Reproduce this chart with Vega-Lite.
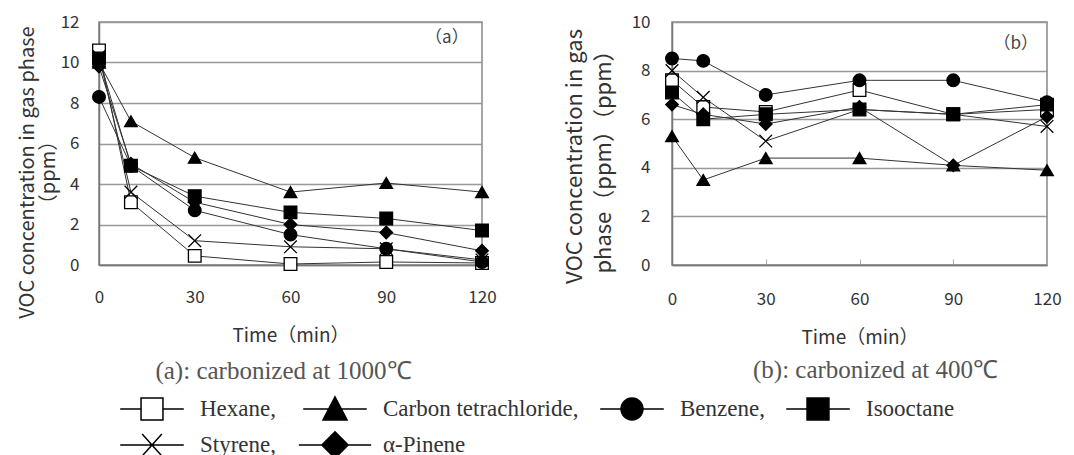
{
  "$schema": "https://vega.github.io/schema/vega-lite/v6.json",
  "background": "white",
  "padding": {"left": 16, "top": 12, "right": 0, "bottom": 0},
  "config": {
    "view": {"stroke": "#888", "strokeWidth": 1.5},
    "font": "Noto Sans CJK JP",
    "axis": {
      "labelFont": "Noto Sans CJK JP", "labelFontSize": 17, "labelColor": "#333",
      "titleFont": "Noto Sans CJK JP", "titleFontSize": 19, "titleFontWeight": "normal", "titleColor": "#333",
      "gridColor": "#999", "gridWidth": 1.5, "domainColor": "#777", "domainWidth": 1.5, "ticks": false
    },
    "axisX": {"labelFlush": false},
    "legend": {
      "labelFont": "Liberation Serif", "labelFontSize": 23, "labelColor": "#333", "labelLimit": 0,
      "symbolOpacity": 1
    },
    "title": {"font": "Liberation Serif", "fontSize": 25, "fontWeight": "normal", "color": "#555"}
  },
  "datasets": {
    "vals": [
      {"panel": "a", "compound": "Hexane", "time": 0, "conc": 10.6},
      {"panel": "a", "compound": "Hexane", "time": 10, "conc": 3.1},
      {"panel": "a", "compound": "Hexane", "time": 30, "conc": 0.45},
      {"panel": "a", "compound": "Hexane", "time": 60, "conc": 0.05},
      {"panel": "a", "compound": "Hexane", "time": 90, "conc": 0.15},
      {"panel": "a", "compound": "Hexane", "time": 120, "conc": 0.1},
      {"panel": "a", "compound": "Carbon tetrachloride", "time": 0, "conc": 10.0},
      {"panel": "a", "compound": "Carbon tetrachloride", "time": 10, "conc": 7.1},
      {"panel": "a", "compound": "Carbon tetrachloride", "time": 30, "conc": 5.3},
      {"panel": "a", "compound": "Carbon tetrachloride", "time": 60, "conc": 3.6},
      {"panel": "a", "compound": "Carbon tetrachloride", "time": 90, "conc": 4.05},
      {"panel": "a", "compound": "Carbon tetrachloride", "time": 120, "conc": 3.6},
      {"panel": "a", "compound": "Benzene", "time": 0, "conc": 8.3},
      {"panel": "a", "compound": "Benzene", "time": 10, "conc": 4.9},
      {"panel": "a", "compound": "Benzene", "time": 30, "conc": 2.7},
      {"panel": "a", "compound": "Benzene", "time": 60, "conc": 1.5},
      {"panel": "a", "compound": "Benzene", "time": 90, "conc": 0.8},
      {"panel": "a", "compound": "Benzene", "time": 120, "conc": 0.15},
      {"panel": "a", "compound": "Isooctane", "time": 0, "conc": 10.2},
      {"panel": "a", "compound": "Isooctane", "time": 10, "conc": 4.9},
      {"panel": "a", "compound": "Isooctane", "time": 30, "conc": 3.4},
      {"panel": "a", "compound": "Isooctane", "time": 60, "conc": 2.6},
      {"panel": "a", "compound": "Isooctane", "time": 90, "conc": 2.3},
      {"panel": "a", "compound": "Isooctane", "time": 120, "conc": 1.7},
      {"panel": "a", "compound": "Styrene", "time": 0, "conc": 10.3},
      {"panel": "a", "compound": "Styrene", "time": 10, "conc": 3.6},
      {"panel": "a", "compound": "Styrene", "time": 30, "conc": 1.2},
      {"panel": "a", "compound": "Styrene", "time": 60, "conc": 0.9},
      {"panel": "a", "compound": "Styrene", "time": 90, "conc": 0.8},
      {"panel": "a", "compound": "Styrene", "time": 120, "conc": 0.25},
      {"panel": "a", "compound": "α-Pinene", "time": 0, "conc": 9.8},
      {"panel": "a", "compound": "α-Pinene", "time": 10, "conc": 5.0},
      {"panel": "a", "compound": "α-Pinene", "time": 30, "conc": 3.1},
      {"panel": "a", "compound": "α-Pinene", "time": 60, "conc": 2.0},
      {"panel": "a", "compound": "α-Pinene", "time": 90, "conc": 1.6},
      {"panel": "a", "compound": "α-Pinene", "time": 120, "conc": 0.7},
      {"panel": "b", "compound": "Hexane", "time": 0, "conc": 7.6},
      {"panel": "b", "compound": "Hexane", "time": 10, "conc": 6.5},
      {"panel": "b", "compound": "Hexane", "time": 30, "conc": 6.3},
      {"panel": "b", "compound": "Hexane", "time": 60, "conc": 7.2},
      {"panel": "b", "compound": "Hexane", "time": 90, "conc": 6.2},
      {"panel": "b", "compound": "Hexane", "time": 120, "conc": 6.4},
      {"panel": "b", "compound": "Carbon tetrachloride", "time": 0, "conc": 5.3},
      {"panel": "b", "compound": "Carbon tetrachloride", "time": 10, "conc": 3.5},
      {"panel": "b", "compound": "Carbon tetrachloride", "time": 30, "conc": 4.4},
      {"panel": "b", "compound": "Carbon tetrachloride", "time": 60, "conc": 4.4},
      {"panel": "b", "compound": "Carbon tetrachloride", "time": 90, "conc": 4.1},
      {"panel": "b", "compound": "Carbon tetrachloride", "time": 120, "conc": 3.9},
      {"panel": "b", "compound": "Benzene", "time": 0, "conc": 8.5},
      {"panel": "b", "compound": "Benzene", "time": 10, "conc": 8.4},
      {"panel": "b", "compound": "Benzene", "time": 30, "conc": 7.0},
      {"panel": "b", "compound": "Benzene", "time": 60, "conc": 7.6},
      {"panel": "b", "compound": "Benzene", "time": 90, "conc": 7.6},
      {"panel": "b", "compound": "Benzene", "time": 120, "conc": 6.7},
      {"panel": "b", "compound": "Isooctane", "time": 0, "conc": 7.1},
      {"panel": "b", "compound": "Isooctane", "time": 10, "conc": 6.0},
      {"panel": "b", "compound": "Isooctane", "time": 30, "conc": 6.2},
      {"panel": "b", "compound": "Isooctane", "time": 60, "conc": 6.4},
      {"panel": "b", "compound": "Isooctane", "time": 90, "conc": 6.2},
      {"panel": "b", "compound": "Isooctane", "time": 120, "conc": 6.6},
      {"panel": "b", "compound": "Styrene", "time": 0, "conc": 8.0},
      {"panel": "b", "compound": "Styrene", "time": 10, "conc": 6.9},
      {"panel": "b", "compound": "Styrene", "time": 30, "conc": 5.1},
      {"panel": "b", "compound": "Styrene", "time": 60, "conc": 6.4},
      {"panel": "b", "compound": "Styrene", "time": 90, "conc": 6.2},
      {"panel": "b", "compound": "Styrene", "time": 120, "conc": 5.7},
      {"panel": "b", "compound": "α-Pinene", "time": 0, "conc": 6.6},
      {"panel": "b", "compound": "α-Pinene", "time": 10, "conc": 6.2},
      {"panel": "b", "compound": "α-Pinene", "time": 30, "conc": 5.8},
      {"panel": "b", "compound": "α-Pinene", "time": 60, "conc": 6.5},
      {"panel": "b", "compound": "α-Pinene", "time": 90, "conc": 4.1},
      {"panel": "b", "compound": "α-Pinene", "time": 120, "conc": 6.1}
    ],
    "labels": [
      {"panel": "a", "time": 109, "conc": 11.2, "text": "（a）"},
      {"panel": "b", "time": 110, "conc": 9.1, "text": "（b）"}
    ]
  },
  "hconcat": [
    {
      "width": 383, "height": 243,
      "title": {"text": "(a):  carbonized at 1000℃", "orient": "bottom", "offset": 14, "dx": -7},
      "layer": [
        {
          "data": {"name": "vals"},
          "transform": [{"filter": "datum.panel == 'a'"}],
          "mark": {"type": "line", "color": "#333", "strokeWidth": 1},
          "encoding": {
            "x": {"field": "time", "type": "quantitative", "scale": {"domain": [0, 120], "nice": false},
                  "axis": {"values": [0, 30, 60, 90, 120], "grid": false, "labelPadding": 24, "titlePadding": 21, "title": "Time（min）"}},
            "y": {"field": "conc", "type": "quantitative", "scale": {"domain": [0, 12], "nice": false},
                  "axis": {"values": [0, 2, 4, 6, 8, 10, 12], "labelPadding": 20, "titlePadding": 2, "titleFontSize": 20, "titleLineHeight": 21,
                           "title": ["VOC concentration in gas phase", "（ppm）"], "titleY": 150}},
            "detail": {"field": "compound"}
          }
        },
        {
          "data": {"name": "vals"},
          "transform": [{"filter": "datum.panel == 'a'"}],
          "mark": {"type": "point", "filled": true, "size": 10, "stroke": "black", "strokeWidth": 1.5, "opacity": 0},
          "encoding": {
            "x": {"field": "time", "type": "quantitative"},
            "y": {"field": "conc", "type": "quantitative"},
            "shape": {"field": "compound", "type": "nominal",
              "scale": {"domain": ["Hexane", "Carbon tetrachloride", "Benzene", "Isooctane", "Styrene", "α-Pinene"],
                        "range": ["M-2.9,0H-1M1,0H2.9M-1,-1H1V1H-1Z", "M-2.9,0H-0.6M0.6,0H2.9M0,-1.1L1.1,1H-1.1Z", "M-2.9,0H-1M1,0H2.9M-1,0A1,1,0,1,1,1,0A1,1,0,1,1,-1,0Z", "M-2.9,0H-1M1,0H2.9M-1,-1H1V1H-1Z", "M-2.9,0H2.9M-0.9,-1L0.9,1M-0.9,1L0.9,-1", "M-3.3,0H-1.2M1.2,0H3.3M0,-1.2L1.2,0L0,1.2L-1.2,0Z"]},
              "legend": {
                "orient": "none", "legendX": 41, "legendY": 375, "direction": "horizontal", "columns": 4,
                "title": null, "columnPadding": 18, "rowPadding": 5, "labelOffset": 36, "symbolSize": 480,
                "symbolStrokeWidth": 1.5,
                "labelExpr": "datum.label == 'Isooctane' || datum.label == 'α-Pinene' ? datum.label : datum.label + ','"
              }},
            "fill": {"field": "compound", "type": "nominal",
              "scale": {"domain": ["Hexane", "Carbon tetrachloride", "Benzene", "Isooctane", "Styrene", "α-Pinene"],
                        "range": ["white", "black", "black", "black", "transparent", "black"]}}
          }
        },
        {
          "data": {"name": "vals"},
          "transform": [{"filter": "datum.panel == 'a'"}],
          "mark": {"type": "point", "filled": true, "size": 160, "stroke": "black", "strokeWidth": 1.3, "opacity": 1},
          "encoding": {
            "x": {"field": "time", "type": "quantitative"},
            "y": {"field": "conc", "type": "quantitative"},
            "shape": {"condition": [
                {"test": "datum.compound == 'Carbon tetrachloride'", "value": "triangle-up"},
                {"test": "datum.compound == 'Benzene'", "value": "circle"},
                {"test": "datum.compound == 'Styrene'", "value": "M-1,-1L1,1M-1,1L1,-1"},
                {"test": "datum.compound == 'α-Pinene'", "value": "diamond"}
              ], "value": "square"},
            "fill": {"condition": [
                {"test": "datum.compound == 'Hexane'", "value": "white"},
                {"test": "datum.compound == 'Styrene'", "value": "transparent"}
              ], "value": "black"}
          }
        },
        {
          "data": {"name": "labels"},
          "transform": [{"filter": "datum.panel == 'a'"}],
          "mark": {"type": "text", "font": "Noto Sans CJK JP", "fontSize": 17, "color": "#444"},
          "encoding": {
            "x": {"field": "time", "type": "quantitative"},
            "y": {"field": "conc", "type": "quantitative"},
            "text": {"field": "text"}
          }
        }
      ]
    },
    {
      "width": 375, "height": 243,
      "title": {"text": "(b):  carbonized at 400℃", "orient": "bottom", "offset": 11, "dx": 16},
      "layer": [
        {
          "data": {"name": "vals"},
          "transform": [{"filter": "datum.panel == 'b'"}],
          "mark": {"type": "line", "color": "#333", "strokeWidth": 1},
          "encoding": {
            "x": {"field": "time", "type": "quantitative", "scale": {"domain": [0, 120], "nice": false},
                  "axis": {"values": [0, 30, 60, 90, 120], "grid": false, "labelPadding": 32, "titlePadding": 21,
                           "ticks": true, "tickSize": -6, "tickColor": "#aaa", "title": "Time（min）"}},
            "y": {"field": "conc", "type": "quantitative", "scale": {"domain": [0, 10], "nice": false},
                  "axis": {"values": [0, 2, 4, 6, 8, 10], "labelPadding": 22, "titlePadding": 16, "titleFontSize": 22, "titleLineHeight": 29,
                           "title": ["VOC concentration in gas", "phase（ppm）（ppm）"], "titleY": 134}},
            "detail": {"field": "compound"}
          }
        },
        {
          "data": {"name": "vals"},
          "transform": [{"filter": "datum.panel == 'b'"}],
          "mark": {"type": "point", "filled": true, "size": 160, "stroke": "black", "strokeWidth": 1.3, "opacity": 1},
          "encoding": {
            "x": {"field": "time", "type": "quantitative"},
            "y": {"field": "conc", "type": "quantitative"},
            "shape": {"condition": [
                {"test": "datum.compound == 'Carbon tetrachloride'", "value": "triangle-up"},
                {"test": "datum.compound == 'Benzene'", "value": "circle"},
                {"test": "datum.compound == 'Styrene'", "value": "M-1,-1L1,1M-1,1L1,-1"},
                {"test": "datum.compound == 'α-Pinene'", "value": "diamond"}
              ], "value": "square"},
            "fill": {"condition": [
                {"test": "datum.compound == 'Hexane'", "value": "white"},
                {"test": "datum.compound == 'Styrene'", "value": "transparent"}
              ], "value": "black"}
          }
        },
        {
          "data": {"name": "labels"},
          "transform": [{"filter": "datum.panel == 'b'"}],
          "mark": {"type": "text", "font": "Noto Sans CJK JP", "fontSize": 17, "color": "#444"},
          "encoding": {
            "x": {"field": "time", "type": "quantitative"},
            "y": {"field": "conc", "type": "quantitative"},
            "text": {"field": "text"}
          }
        }
      ]
    }
  ],
  "spacing": 190,
  "bounds": "flush"
}
